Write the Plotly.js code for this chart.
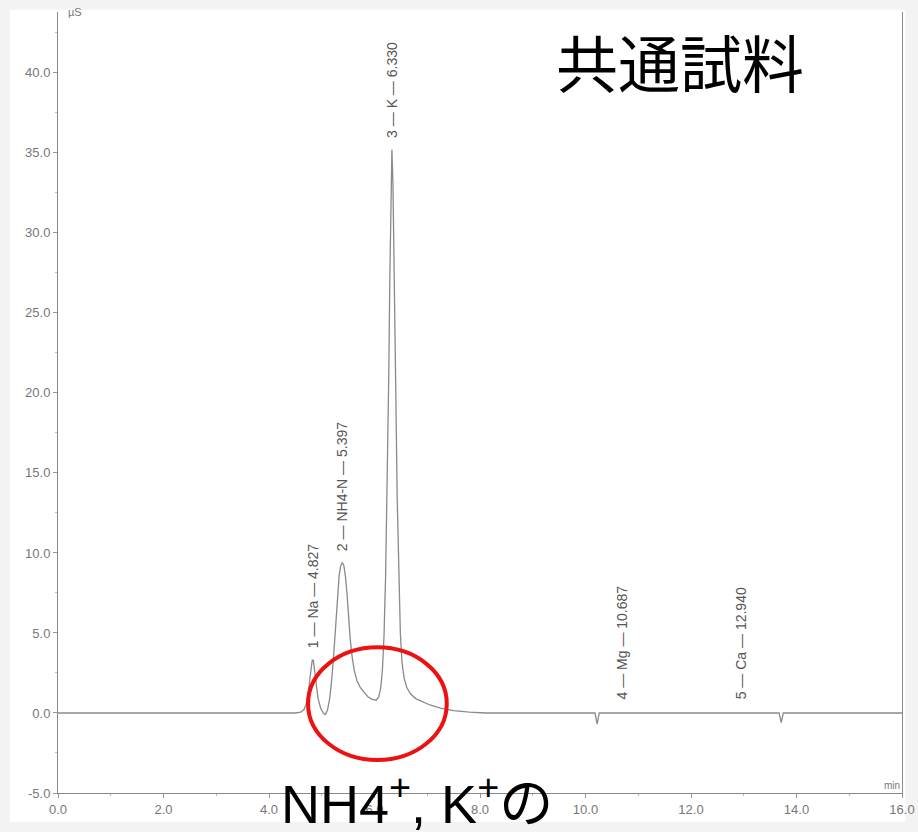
<!DOCTYPE html>
<html>
<head>
<meta charset="utf-8">
<script src="https://cdn.plot.ly/plotly-3.0.1.min.js"></script>
<style>html,body{margin:0;padding:0;background:#fff;}#chart{width:918px;height:832px;}</style>
</head>
<body>
<div id="chart"></div>
<script>
// Chromatogram trace (retention time in min, conductivity in µS)
const time = [0, 4.50, 4.60, 4.66, 4.70, 4.74, 4.77, 4.80, 4.82, 4.84, 4.86, 4.89, 4.93, 4.98, 5.03, 5.07, 5.11, 5.15, 5.19, 5.23, 5.27, 5.30, 5.33, 5.36, 5.39, 5.42, 5.45, 5.48, 5.51, 5.54, 5.58, 5.62, 5.67, 5.73, 5.80, 5.88, 5.96, 6.03, 6.08, 6.12, 6.15, 6.18, 6.21, 6.24, 6.27, 6.29, 6.31, 6.33, 6.35, 6.37, 6.39, 6.41, 6.43, 6.46, 6.49, 6.52, 6.56, 6.61, 6.68, 6.78, 6.90, 7.05, 7.25, 7.50, 7.80, 8.10, 10.18, 10.22, 10.26, 13.67, 13.71, 13.75, 16.0];
const signal = [0, 0, 0.05, 0.2, 0.5, 1.1, 2.0, 2.9, 3.3, 3.3, 2.8, 1.8, 0.9, 0.3, 0.0, -0.1, 0.2, 0.9, 2.1, 3.8, 5.8, 7.4, 8.6, 9.2, 9.4, 9.2, 8.5, 7.4, 6.0, 4.6, 3.4, 2.6, 2.0, 1.6, 1.3, 1.0, 0.85, 0.8, 1.0, 1.6, 2.7, 4.8, 8.5, 14, 21, 27, 32, 35.2, 33, 29, 24, 18.5, 13.5, 8.5, 5.0, 3.2, 2.2, 1.6, 1.2, 0.9, 0.7, 0.5, 0.3, 0.15, 0.05, 0, 0, -0.7, 0, 0, -0.6, 0, 0];

// Peak table
const peakNo = ["1", "2", "3", "4", "5"];
const peakNames = ["Na", "NH4-N", "K", "Mg", "Ca"];
const peakTimes = [4.827, 5.397, 6.330, 10.687, 12.940];
const peakHeights = [3.3, 9.4, 35.2, 0.1, 0.1];

// Axis ticks
const xTicks = [0, 2, 4, 6, 8, 10, 12, 14, 16];
const xTickLabels = ["0.0", "2.0", "4.0", "6.0", "8.0", "10.0", "12.0", "14.0", "16.0"];
const yTicks = [-5, 0, 5, 10, 15, 20, 25, 30, 35, 40];
const yTickLabels = ["-5.0", "0.0", "5.0", "10.0", "15.0", "20.0", "25.0", "30.0", "35.0", "40.0"];

const titleText = "共通試料";
const noteText = "NH4<sup>+</sup>, K<sup>+</sup>の";

const tickFont = {family: "Liberation Sans, Arial, sans-serif", size: 13, color: "#777"};
const sep = "\u00a0—\u00a0";

const peakAnnotations = peakNames.map((n, i) => ({
  x: peakTimes[i], y: peakHeights[i] + 0.6, xref: "x", yref: "y",
  text: peakNo[i] + sep + n + sep + peakTimes[i].toFixed(3),
  textangle: -90, showarrow: false, xanchor: "center", yanchor: "bottom",
  font: {family: "Liberation Sans, Arial, sans-serif", size: 14, color: "#555"}
}));

const trace = {
  x: time, y: signal, type: "scatter", mode: "lines",
  line: {color: "#8a8a8a", width: 1.3, shape: "linear"},
  hoverinfo: "x+y"
};

const layout = {
  width: 918, height: 832,
  margin: {l: 58, r: 16, t: 12, b: 39},
  paper_bgcolor: "#f3f3f3",
  plot_bgcolor: "#ffffff",
  showlegend: false,
  xaxis: {
    range: [0, 16], tickvals: xTicks, ticktext: xTickLabels,
    showline: true, linecolor: "#888", linewidth: 1, mirror: false,
    ticks: "outside", ticklen: 4, tickcolor: "#999",
    showgrid: false, zeroline: false, tickfont: tickFont,
    minor: {dtick: 1, ticks: "outside", ticklen: 2, tickcolor: "#bbb"}
  },
  yaxis: {
    range: [-5, 43.8], tickvals: yTicks, ticktext: yTickLabels,
    showline: true, linecolor: "#888", linewidth: 1, mirror: true,
    ticks: "outside", ticklen: 4, tickcolor: "#999",
    showgrid: false, zeroline: false, tickfont: tickFont,
    minor: {dtick: 2.5, ticks: "outside", ticklen: 2, tickcolor: "#bbb"}
  },
  shapes: [
    {type: "rect", xref: "paper", yref: "paper", x0: -0.057, x1: 1.004, y0: -0.037, y1: 1.003,
     fillcolor: "#ffffff", line: {width: 0}, layer: "below"},
    {type: "circle", xref: "x", yref: "y", x0: 4.74, x1: 7.37, y0: -2.94, y1: 4.1,
     line: {color: "#ee1111", width: 4}}
  ],
  annotations: peakAnnotations.concat([
    {x: 0.737, y: 0.937, xref: "paper", yref: "paper", text: titleText, showarrow: false,
     xanchor: "center", yanchor: "middle",
     font: {family: "Noto Sans CJK JP, sans-serif", size: 62, color: "#000"}},
    {x: 0.425, y: -0.009, xref: "paper", yref: "paper", text: noteText, showarrow: false,
     xanchor: "center", yanchor: "middle",
     font: {family: "Liberation Sans, Arial, Noto Sans CJK JP, sans-serif", size: 54, color: "#000"}},
    {x: 0.01, y: 1, xref: "paper", yref: "paper", text: "µS", showarrow: false,
     xanchor: "left", yanchor: "middle",
     font: {family: "Liberation Sans, Arial, sans-serif", size: 11, color: "#777"}},
    {x: 1, y: 0, xref: "paper", yref: "paper", text: "min", showarrow: false,
     xanchor: "right", yanchor: "bottom",
     font: {family: "Liberation Sans, Arial, sans-serif", size: 10, color: "#777"}}
  ])
};

Plotly.newPlot("chart", [trace], layout, {displayModeBar: false, staticPlot: true});
</script>
</body>
</html>
